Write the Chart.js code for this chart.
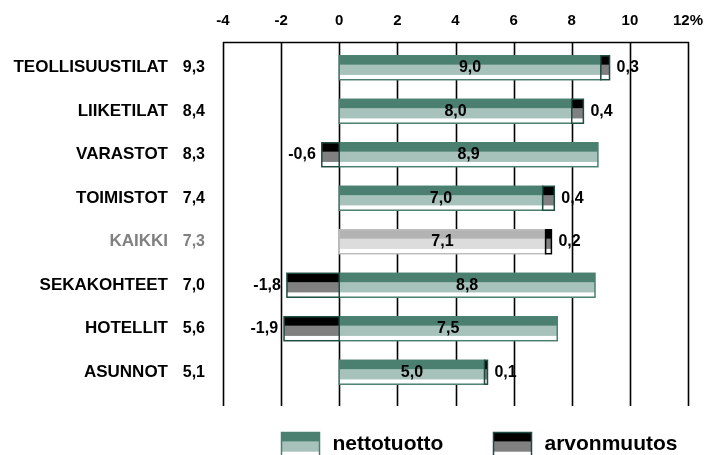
<!DOCTYPE html>
<html lang="fi">
<head>
<meta charset="utf-8">
<title>Kokonaistuotto</title>
<script src="https://cdn.jsdelivr.net/npm/chart.js@4"></script>
<style>
  html, body { margin: 0; padding: 0; background: #fff; }
  #kaavio { width: 704px; height: 455px; }
</style>
</head>
<body>
<div id="kaavio"><canvas id="tuottoKaavio"></canvas></div>
<script>
const kohteet = ["TEOLLISUUSTILAT", "LIIKETILAT", "VARASTOT", "TOIMISTOT", "KAIKKI", "SEKAKOHTEET", "HOTELLIT", "ASUNNOT"];
const kokonaistuotto = [9.3, 8.4, 8.3, 7.4, 7.3, 7.0, 5.6, 5.1];
const nettotuotto = [9.0, 8.0, 8.9, 7.0, 7.1, 8.8, 7.5, 5.0];
const arvonmuutos = [0.3, 0.4, -0.6, 0.4, 0.2, -1.8, -1.9, 0.1];
const xAkseli = { min: -4, max: 12, askel: 2 };
const korostettu = "KAIKKI";

const FONTTI = '"Liberation Sans", Arial, sans-serif';
Chart.defaults.font.family = FONTTI;

const varit = {
  netto: { yla: "#4b8070", keski: "#a7c2ba", reuna: "#4b8070" },
  nettoKaikki: { yla: "#b3b3b3", keski: "#dcdcdc", reuna: "#bdbdbd" },
  arvo: { yla: "#000000", keski: "#808080", reuna: "#1f4d41" },
  arvoKaikki: { yla: "#000000", keski: "#808080", reuna: "#000000" }
};

function paletti(datasetIndex, i) {
  const kaikki = kohteet[i] === korostettu;
  if (datasetIndex === 0) return kaikki ? varit.nettoKaikki : varit.netto;
  return kaikki ? varit.arvoKaikki : varit.arvo;
}

const luku = v => v.toFixed(1).replace(".", ",");

// palkin kolme vyötä: tumma yläreuna, vaalea keskiosa, valkoinen alaosa
function piirraPalkki(ctx, x, y, w, h, v) {
  ctx.fillStyle = v.keski;
  ctx.fillRect(x, y, w, h);
  ctx.fillStyle = v.yla;
  ctx.fillRect(x, y, w, h * 0.37);
  ctx.fillStyle = "#ffffff";
  ctx.fillRect(x, y + h * 0.8, w, h * 0.2);
  ctx.strokeStyle = v.reuna;
  ctx.lineWidth = 1.5;
  ctx.strokeRect(x, y, w, h);
}

// akselien omat reunavarat pois, jotta piirtoalue pysyy paikallaan
function nollaaReunat(scale) {
  scale.paddingLeft = 0;
  scale.paddingRight = 0;
  scale.paddingTop = 0;
  scale.paddingBottom = 0;
}

const ruudukko = {
  id: "ruudukko",
  beforeDatasetsDraw(chart) {
    const { ctx, chartArea, scales } = chart;
    const ylos = chartArea.top - 4;
    const alas = chartArea.bottom + 12;
    ctx.save();
    ctx.strokeStyle = "#000";
    ctx.lineWidth = 1.6;
    scales.x.ticks.forEach(t => {
      const px = Math.round(scales.x.getPixelForValue(t.value)) + 0.5;
      ctx.beginPath();
      ctx.moveTo(px, ylos);
      ctx.lineTo(px, alas);
      ctx.stroke();
    });
    ctx.beginPath();
    ctx.moveTo(scales.x.left, Math.round(ylos) + 0.5);
    ctx.lineTo(scales.x.right + 1, Math.round(ylos) + 0.5);
    ctx.stroke();
    ctx.restore();
  }
};

const palkit = {
  id: "palkit",
  afterDatasetsDraw(chart) {
    const { ctx, chartArea, scales } = chart;
    ctx.save();
    chart.data.datasets.forEach((ds, d) => {
      chart.getDatasetMeta(d).data.forEach((bar, i) => {
        const p = bar.getProps(["x", "y", "base", "height"], true);
        const vasen = Math.min(p.x, p.base);
        piirraPalkki(ctx, vasen, p.y - p.height / 2, Math.abs(p.x - p.base), p.height, paletti(d, i));
      });
    });

    ctx.fillStyle = "#000";
    ctx.font = "bold 16px " + FONTTI;
    ctx.textBaseline = "middle";
    chart.getDatasetMeta(0).data.forEach((bar, i) => {
      const p = bar.getProps(["x", "y", "base"], true);
      ctx.textAlign = "center";
      ctx.fillText(luku(nettotuotto[i]), (p.x + p.base) / 2, p.y);
    });
    chart.getDatasetMeta(1).data.forEach((bar, i) => {
      const p = bar.getProps(["x", "y"], true);
      const v = arvonmuutos[i];
      ctx.textAlign = v < 0 ? "right" : "left";
      ctx.fillText(luku(v), p.x + (v < 0 ? -6 : 7), p.y);
    });

    // kokonaistuotto kohteen nimen perässä
    ctx.font = "bold 16px " + FONTTI;
    ctx.textAlign = "right";
    kohteet.forEach((k, i) => {
      ctx.fillStyle = k === korostettu ? "#808080" : "#000";
      ctx.fillText(luku(kokonaistuotto[i]), chartArea.left - 18, scales.y.getPixelForValue(i));
    });
    ctx.restore();
  }
};

const selite = {
  id: "selite",
  afterDraw(chart) {
    const { ctx } = chart;
    const paikat = [281.5, 493.5];
    ctx.save();
    chart.data.datasets.forEach((ds, d) => {
      const x = paikat[d];
      piirraPalkki(ctx, x, 432.5, 38, 24, d === 0 ? varit.netto : varit.arvo);
      ctx.fillStyle = "#000";
      ctx.font = "bold 21px " + FONTTI;
      ctx.textAlign = "left";
      ctx.textBaseline = "middle";
      ctx.fillText(ds.label, x + 51, 444);
    });
    ctx.restore();
  }
};

const ctx = document.getElementById("tuottoKaavio").getContext("2d");

new Chart(ctx, {
  type: "bar",
  data: {
    labels: kohteet,
    datasets: [
      {
        label: "nettotuotto",
        data: nettotuotto,
        backgroundColor: c => paletti(0, c.dataIndex).keski,
        borderWidth: 0,
        barPercentage: 0.55,
        categoryPercentage: 1
      },
      {
        label: "arvonmuutos",
        data: arvonmuutos,
        backgroundColor: c => paletti(1, c.dataIndex).keski,
        borderWidth: 0,
        barPercentage: 0.55,
        categoryPercentage: 1
      }
    ]
  },
  options: {
    indexAxis: "y",
    responsive: true,
    maintainAspectRatio: false,
    devicePixelRatio: 1,
    animation: false,
    layout: { padding: { top: 0, right: 16, bottom: 61, left: 0 } },
    plugins: {
      legend: { display: false },
      tooltip: { enabled: false }
    },
    scales: {
      x: {
        position: "top",
        stacked: true,
        min: xAkseli.min,
        max: xAkseli.max,
        grid: { display: false, drawTicks: false },
        border: { display: false },
        afterFit: scale => { scale.height = 46; nollaaReunat(scale); },
        ticks: {
          stepSize: xAkseli.askel,
          padding: 16,
          color: "#000",
          font: { size: 15, weight: "bold" },
          callback: v => v === xAkseli.max ? v + "%" : v
        }
      },
      y: {
        stacked: true,
        grid: { display: false, drawTicks: false },
        border: { display: false },
        afterFit: scale => { scale.width = 223; nollaaReunat(scale); },
        ticks: {
          padding: 55,
          color: c => kohteet[c.index] === korostettu ? "#808080" : "#000",
          font: { size: 17, weight: "bold" }
        }
      }
    }
  },
  plugins: [ruudukko, palkit, selite]
});
</script>
</body>
</html>
